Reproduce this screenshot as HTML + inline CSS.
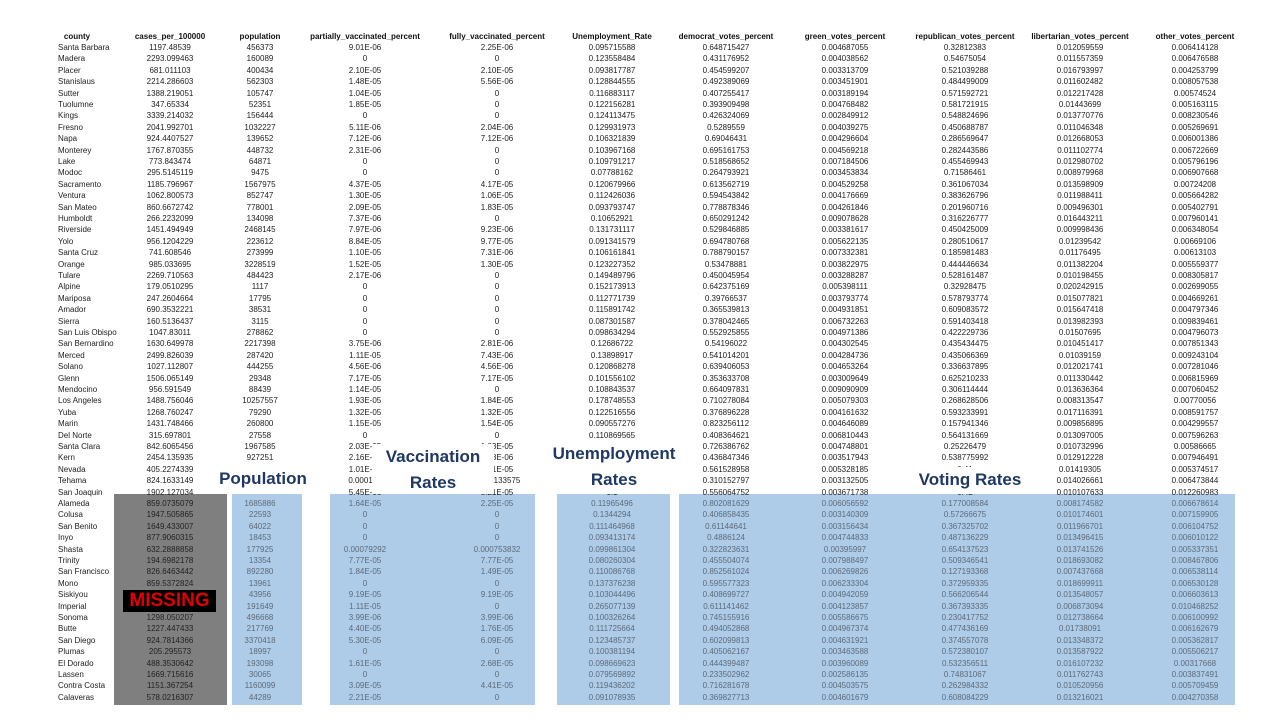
<!DOCTYPE html>
<html><head><meta charset="utf-8"><style>
body{margin:0;width:1280px;height:720px;background:#fff;position:relative;overflow:hidden;font-family:"Liberation Sans",sans-serif}
.c{position:absolute;font-size:8px;line-height:10px;white-space:nowrap;transform:translateX(-50%);color:#222}
.h{font-weight:bold;color:#111}
.l{transform:none}
.blk{position:absolute}
.lab{position:absolute;color:#1f3864;font-weight:bold;font-size:17px;text-align:center;line-height:26px;background:#fff}
</style></head><body>
<div class="blk" style="left:114px;top:494px;width:113px;height:211px;background:#7f7f7f"></div>
<div class="blk" style="left:232px;top:494px;width:70px;height:211px;background:#aecbe8"></div>
<div class="blk" style="left:330px;top:494px;width:205px;height:211px;background:#aecbe8"></div>
<div class="blk" style="left:557px;top:494px;width:113px;height:211px;background:#aecbe8"></div>
<div class="blk" style="left:679px;top:494px;width:556px;height:211px;background:#aecbe8"></div>
<div id="tbl"></div>
<div class="lab" style="left:216px;top:466px;width:94px;height:28px">Population</div>
<div class="lab" style="left:372px;top:444px;width:122px;height:50px">Vaccination<br>Rates</div>
<div class="lab" style="left:541px;top:441px;width:146px;height:53px">Unemployment<br>Rates</div>
<div class="lab" style="left:906px;top:467px;width:128px;height:27px">Voting Rates</div>
<div style="position:absolute;left:123px;top:590px;width:93px;height:22px;background:#000;color:#e00000;font-weight:bold;font-size:19px;line-height:22px;text-align:center">MISSING</div>
<script>
const headers=["county","cases_per_100000","population","partially_vaccinated_percent","fully_vaccinated_percent","Unemployment_Rate","democrat_votes_percent","green_votes_percent","republican_votes_percent","libertarian_votes_percent","other_votes_percent"];
const counties=["Santa Barbara","Madera","Placer","Stanislaus","Sutter","Tuolumne","Kings","Fresno","Napa","Monterey","Lake","Modoc","Sacramento","Ventura","San Mateo","Humboldt","Riverside","Yolo","Santa Cruz","Orange","Tulare","Alpine","Mariposa","Amador","Sierra","San Luis Obispo","San Bernardino","Merced","Solano","Glenn","Mendocino","Los Angeles","Yuba","Marin","Del Norte","Santa Clara","Kern","Nevada","Tehama","San Joaquin","Alameda","Colusa","San Benito","Inyo","Shasta","Trinity","San Francisco","Mono","Siskiyou","Imperial","Sonoma","Butte","San Diego","Plumas","El Dorado","Lassen","Contra Costa","Calaveras"];
const cases=["1197.48539","2293.099463","681.011103","2214.286603","1388.219051","347.65334","3339.214032","2041.992701","924.4407527","1767.870355","773.843474","295.5145119","1185.796967","1062.800573","860.6672742","266.2232099","1451.494949","956.1204229","741.608546","985.033695","2269.710563","179.0510295","247.2604664","690.3532221","160.5136437","1047.83011","1630.649978","2499.826039","1027.112807","1506.065149","956.591549","1488.756046","1268.760247","1431.748466","315.697801","842.6065456","2454.135935","405.2274339","824.1633149","1902.127034","859.0735079","1947.505865","1649.433007","877.9060315","632.2888858","194.6982178","826.6463442","859.5372824","","","1298.050207","1227.447433","924.7814366","205.295573","488.3530642","1669.715616","1151.367254","578.0216307"];
const population=["456373","160089","400434","562303","105747","52351","156444","1032227","139652","448732","64871","9475","1567975","852747","778001","134098","2468145","223612","273999","3228519","484423","1117","17795","38531","3115","278862","2217398","287420","444255","29348","88439","10257557","79290","260800","27558","1967585","927251","","","","1685886","22593","64022","18453","177925","13354","892280","13961","43956","191649","496668","217769","3370418","18997","193098","30065","1160099","44289"];
const partialVax=["9.01E-06","0","2.10E-05","1.48E-05","1.04E-05","1.85E-05","0","5.11E-06","7.12E-06","2.31E-06","0","0","4.37E-05","1.30E-05","2.09E-05","7.37E-06","7.97E-06","8.84E-05","1.10E-05","1.52E-05","2.17E-06","0","0","0","0","0","3.75E-06","1.11E-05","4.56E-06","7.17E-05","1.14E-05","1.93E-05","1.32E-05","1.15E-05","0","2.03E-05","2.16E-06","1.01E-05","0.000121","5.45E-06","1.64E-05","0","0","0","0.00079292","7.77E-05","1.84E-05","0","9.19E-05","1.11E-05","3.99E-06","4.40E-05","5.30E-05","0","1.61E-05","0","3.09E-05","2.21E-05"];
const fullyVax=["2.25E-06","0","2.10E-05","5.56E-06","0","0","0","2.04E-06","7.12E-06","0","0","0","4.17E-05","1.06E-05","1.83E-05","0","9.23E-06","9.77E-05","7.31E-06","1.30E-05","0","0","0","0","0","0","2.81E-06","7.43E-06","4.56E-06","7.17E-05","0","1.84E-05","1.32E-05","1.54E-05","0","1.83E-05","1.08E-06","1.01E-05","0.000133575","3.21E-05","2.25E-05","0","0","0","0.000753832","7.77E-05","1.49E-05","0","9.19E-05","0","3.99E-06","1.76E-05","6.09E-05","0","2.68E-05","0","4.41E-05","0"];
const unemployment=["0.095715588","0.123558484","0.093817787","0.128844555","0.116883117","0.122156281","0.124113475","0.129931973","0.106321839","0.103967168","0.109791217","0.07788162","0.120679966","0.112426036","0.093793747","0.10652921","0.131731117","0.091341579","0.106161841","0.123227352","0.149489796","0.152173913","0.112771739","0.115891742","0.087301587","0.098634294","0.12686722","0.13898917","0.120868278","0.101556102","0.108843537","0.178748553","0.122516556","0.090557276","0.110869565","0.1","0.1","0.1","0.1","0.1","0.11965496","0.1344294","0.111464968","0.093413174","0.099861304","0.080260304","0.110086768","0.137376238","0.103044496","0.265077139","0.100326264","0.111725664","0.123485737","0.100381194","0.098669623","0.079569892","0.119436202","0.091078935"];
const democrat=["0.648715427","0.431176952","0.454599207","0.492389069","0.407255417","0.393909498","0.426324069","0.5289559","0.69046431","0.695161753","0.518568652","0.264793921","0.613562719","0.594543842","0.778878346","0.650291242","0.529846885","0.694780768","0.788790157","0.53478881","0.450045954","0.642375169","0.39766537","0.365539813","0.378042465","0.552925855","0.54196022","0.541014201","0.639406053","0.353633708","0.664097831","0.710278084","0.376896228","0.823256112","0.408364621","0.726386762","0.436847346","0.561528958","0.310152797","0.556064752","0.802081629","0.406858435","0.61144641","0.4886124","0.322823631","0.455504074","0.852561024","0.595577323","0.408699727","0.611141462","0.745155916","0.494052868","0.602099813","0.405062167","0.444399487","0.233502962","0.716281678","0.369827713"];
const green=["0.004687055","0.004038562","0.003313709","0.003451901","0.003189194","0.004768482","0.002849912","0.004039275","0.004296604","0.004569218","0.007184506","0.003453834","0.004529258","0.004176669","0.004261846","0.009078628","0.003381617","0.005622135","0.007332381","0.003822975","0.003288287","0.005398111","0.003793774","0.004931851","0.006732263","0.004971386","0.004302545","0.004284736","0.004653264","0.003009649","0.009090909","0.005079303","0.004161632","0.004646089","0.006810443","0.004748801","0.003517943","0.005328185","0.003132505","0.003671738","0.006056592","0.003140309","0.003156434","0.004744833","0.00395997","0.007988497","0.006269826","0.006233304","0.004942059","0.004123857","0.005586675","0.004967374","0.004631921","0.003463588","0.003960089","0.002586135","0.004503575","0.004601679"];
const republican=["0.32812383","0.54675054","0.521039288","0.484499009","0.571592721","0.581721915","0.548824696","0.450688787","0.286569647","0.282443586","0.455469943","0.71586461","0.361067034","0.383626796","0.201960716","0.316226777","0.450425009","0.280510617","0.185981483","0.444446634","0.528161487","0.32928475","0.578793774","0.609083572","0.591403418","0.422229736","0.435434475","0.435066369","0.336637895","0.625210233","0.306114444","0.268628506","0.593233991","0.157941346","0.564131669","0.25226479","0.538775992","0.41","0.66","0.42","0.177008584","0.57266675","0.367325702","0.487136229","0.654137523","0.509346541","0.127193368","0.372959335","0.566206544","0.367393335","0.230417752","0.477436169","0.374557078","0.572380107","0.532356511","0.74831067","0.262984332","0.608084229"];
const libertarian=["0.012059559","0.011557359","0.016793997","0.011602482","0.012217428","0.01443699","0.013770776","0.011046348","0.012668053","0.011102774","0.012980702","0.008979968","0.013598909","0.011988411","0.009496301","0.016443211","0.009998436","0.01239542","0.01176495","0.011382204","0.010198455","0.020242915","0.015077821","0.015647418","0.013982393","0.01507695","0.010451417","0.01039159","0.012021741","0.011330442","0.013636364","0.008313547","0.017116391","0.009856895","0.013097005","0.010732996","0.012912228","0.01419305","0.014026661","0.010107633","0.008174582","0.010174601","0.011966701","0.013496415","0.013741526","0.018693082","0.007437668","0.018699911","0.013548057","0.006873094","0.012738664","0.01738091","0.013348372","0.013587922","0.016107232","0.011762743","0.010520956","0.013216021"];
const other=["0.006414128","0.006476588","0.004253799","0.008057538","0.00574524","0.005163115","0.008230546","0.005269691","0.006001386","0.006722669","0.005796196","0.006907668","0.00724208","0.005664282","0.005402791","0.007960141","0.006348054","0.00669106","0.00613103","0.005559377","0.008305817","0.002699055","0.004669261","0.004797346","0.009839461","0.004796073","0.007851343","0.009243104","0.007281046","0.006815969","0.007060452","0.00770056","0.008591757","0.004299557","0.007596263","0.00586665","0.007946491","0.005374517","0.006473844","0.012260983","0.006678614","0.007159905","0.006104752","0.006010122","0.005337351","0.008467806","0.006538114","0.006530128","0.006603613","0.010468252","0.006100992","0.006162679","0.005362817","0.005506217","0.00317668","0.003837491","0.005709459","0.004270358"];
const colX=[58,170,260,365,497,612,726,845,965,1080,1195];
const cols=[counties,cases,population,partialVax,fullyVax,unemployment,democrat,green,republican,libertarian,other];
const colNames=['county','cases','population','partial-vax','fully-vax','unemployment','democrat','green','republican','libertarian','other'];
const tbl=document.getElementById('tbl');
headers.forEach((h,j)=>{
  const d=document.createElement('div');
  d.className='c h';
  d.style.left=(j===0?77:colX[j])+'px';d.style.top='32px';
  d.textContent=h;
  
  
  tbl.appendChild(d);
});
const rowH=11.4;
counties.forEach((c,i)=>{
  const y=43+i*rowH;
  cols.forEach((arr,j)=>{
    const d=document.createElement('div');
    d.className='c'+(j===0?' l':'');
    d.style.left=colX[j]+'px';d.style.top=y+'px';
    if(i>=40&&j>=2) d.style.color='#5d6b7a';
    d.textContent=arr[i];
    
    
    tbl.appendChild(d);
  });
});
</script>
</body></html>
